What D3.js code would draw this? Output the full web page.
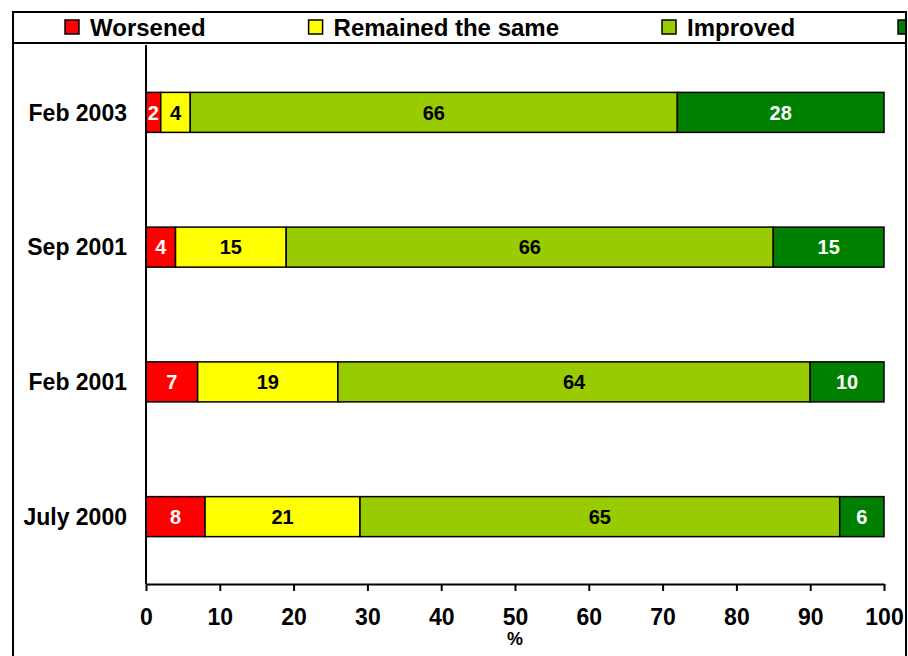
<!DOCTYPE html>
<html>
<head>
<meta charset="utf-8">
<script src="https://cdn.jsdelivr.net/npm/d3@7"></script>
<style>
  body { margin: 0; background: #fff; }
  svg { display: block; font-family: "Liberation Sans", Arial, sans-serif; font-weight: bold; }
</style>
</head>
<body>
<div id="chart"></div>
<script>
const categories = ['Feb 2003', 'Sep 2001', 'Feb 2001', 'July 2000'];
const worsened = [2, 4, 7, 8];
const same = [4, 15, 19, 21];
const improved = [66, 66, 64, 65];
const improvedLot = [28, 15, 10, 6];
const xTicks = [0, 10, 20, 30, 40, 50, 60, 70, 80, 90, 100];

// the 4th legend entry runs past the frame in the source, only its swatch shows
const seriesNames = ['Worsened', 'Remained the same', 'Improved', ''];
const seriesValues = [worsened, same, improved, improvedLot];
const colors = ['#ff0000', '#ffff00', '#99cc00', '#008000'];
const labelColors = ['#fff', '#000', '#000', '#fff'];

const width = 908;
const height = 656;
const frame = { left: 13, top: 12, right: 906 };
const legendBottom = 43;
const plot = { left: 146, right: 884, top: 45, bottom: 584 };
const barHeight = 40;

const svg = d3.select('#chart').append('svg')
  .attr('width', width)
  .attr('height', height);

// frame + legend box
svg.append('rect')
  .attr('x', frame.left).attr('y', frame.top)
  .attr('width', frame.right - frame.left).attr('height', height + 20)
  .attr('fill', 'none').attr('stroke', '#000').attr('stroke-width', 2);

svg.append('line')
  .attr('x1', frame.left).attr('x2', frame.right)
  .attr('y1', legendBottom).attr('y2', legendBottom)
  .attr('stroke', '#000').attr('stroke-width', 2);

svg.append('clipPath').attr('id', 'legendClip')
  .append('rect')
  .attr('x', frame.left).attr('y', frame.top)
  .attr('width', frame.right - frame.left - 1).attr('height', legendBottom - frame.top);

const legend = svg.append('g').attr('clip-path', 'url(#legendClip)');
let lx = 65;
seriesNames.forEach((name, i) => {
  legend.append('rect')
    .attr('x', lx).attr('y', 20).attr('width', 14).attr('height', 14)
    .attr('fill', colors[i]).attr('stroke', '#000').attr('stroke-width', 1.5);
  if (!name) return;
  const t = legend.append('text')
    .attr('x', lx + 25).attr('y', 36)
    .attr('font-size', 24)
    .text(name);
  lx += 25 + t.node().getComputedTextLength() + 103;
});

// scales
const x = d3.scaleLinear().domain([0, 100]).range([plot.left, plot.right]);
const y = d3.scalePoint().domain(categories).range([plot.top, plot.bottom]).padding(0.5);

// stacked data
const rows = categories.map((c, i) => {
  let acc = 0;
  return seriesValues.map((vals, s) => {
    const seg = { cat: c, s, v: vals[i], x0: acc, x1: acc + vals[i] };
    acc += vals[i];
    return seg;
  });
}).flat();

const bars = svg.append('g');
bars.selectAll('rect')
  .data(rows)
  .join('rect')
    .attr('x', d => x(d.x0))
    .attr('y', d => y(d.cat) - barHeight / 2)
    .attr('width', d => x(d.x1) - x(d.x0))
    .attr('height', barHeight)
    .attr('fill', d => colors[d.s])
    .attr('stroke', '#000')
    .attr('stroke-width', 1.5);

bars.selectAll('text')
  .data(rows)
  .join('text')
    .attr('x', d => (x(d.x0) + x(d.x1)) / 2)
    .attr('y', d => y(d.cat))
    .attr('dy', '0.36em')
    .attr('text-anchor', 'middle')
    .attr('font-size', 20)
    .attr('fill', d => labelColors[d.s])
    .text(d => d.v);

// axes
svg.append('line')
  .attr('x1', plot.left).attr('x2', plot.left)
  .attr('y1', plot.top).attr('y2', plot.bottom)
  .attr('stroke', '#000').attr('stroke-width', 2);

svg.selectAll('.cat')
  .data(categories)
  .join('text')
    .attr('class', 'cat')
    .attr('x', 127)
    .attr('y', d => y(d))
    .attr('dy', '0.36em')
    .attr('text-anchor', 'end')
    .attr('font-size', 23)
    .text(d => d);

const xAxis = svg.append('g')
  .attr('transform', `translate(0,${plot.bottom})`)
  .call(d3.axisBottom(x).tickValues(xTicks).tickSize(7).tickPadding(18).tickSizeOuter(0));
xAxis.select('.domain').attr('stroke-width', 2);
xAxis.selectAll('.tick line').attr('stroke-width', 2);
xAxis.selectAll('.tick text')
  .attr('font-size', 23)
  .attr('font-family', '"Liberation Sans", Arial, sans-serif')
  .attr('font-weight', 'bold')
  .attr('fill', '#000');

svg.append('text')
  .attr('x', x(50))
  .attr('y', 645)
  .attr('text-anchor', 'middle')
  .attr('font-size', 18)
  .text('%');
</script>
</body>
</html>
